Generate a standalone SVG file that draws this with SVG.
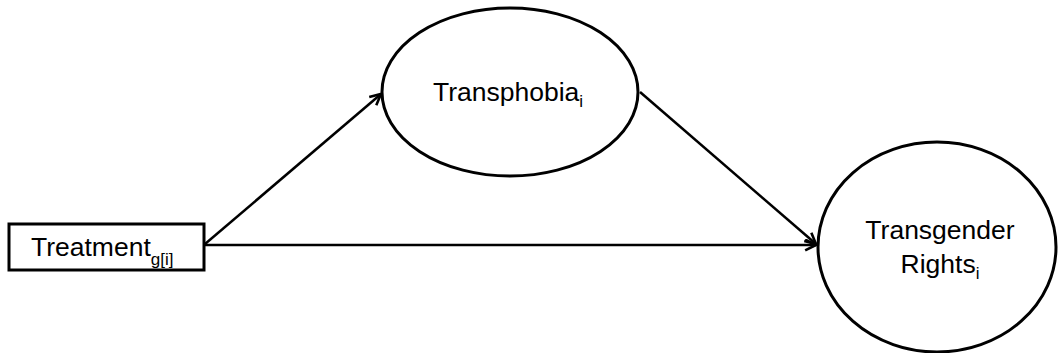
<svg xmlns="http://www.w3.org/2000/svg" width="1058" height="353" viewBox="0 0 1058 353">
<defs>
<style>
.shape{fill:#fff;stroke:#000;stroke-width:3}
.edge{stroke:#000;stroke-width:2.5;fill:none}
.lbl{font-family:"Liberation Sans",Arial,sans-serif;font-size:26.5px;fill:#000}
.sub{font-size:17px;fill:#000}
</style>
<marker id="arr" viewBox="0 0 12 12" refX="11" refY="6" markerWidth="13" markerHeight="13" markerUnits="userSpaceOnUse" orient="auto">
<path d="M1,1 L11,6 L1,11" fill="none" stroke="#000" stroke-width="2.4"/>
</marker>
</defs>
<rect width="1058" height="353" fill="#fff"/>
<g id="connectors">
<line class="edge" x1="205" y1="244" x2="381" y2="94" marker-end="url(#arr)"/>
<line class="edge" x1="640" y1="92" x2="816" y2="244" marker-end="url(#arr)"/>
<line class="edge" x1="205" y1="245" x2="816" y2="245" marker-end="url(#arr)"/>
</g>
<g id="treatment">
<rect class="shape" x="9" y="224" width="195" height="46"/>
<text class="lbl" x="31" y="256">Treatment<tspan class="sub" dy="9">g[i]</tspan></text>
</g>
<g id="transphobia">
<ellipse class="shape" cx="510" cy="92" rx="128" ry="84"/>
<text class="lbl" x="508" y="101" text-anchor="middle">Transphobia<tspan class="sub" dy="6">i</tspan></text>
</g>
<g id="rights">
<ellipse class="shape" cx="937" cy="247" rx="119" ry="105"/>
<text class="lbl" x="940" y="239" text-anchor="middle">Transgender</text>
<text class="lbl" x="940" y="273" text-anchor="middle">Rights<tspan class="sub" dy="6">i</tspan></text>
</g>
</svg>
